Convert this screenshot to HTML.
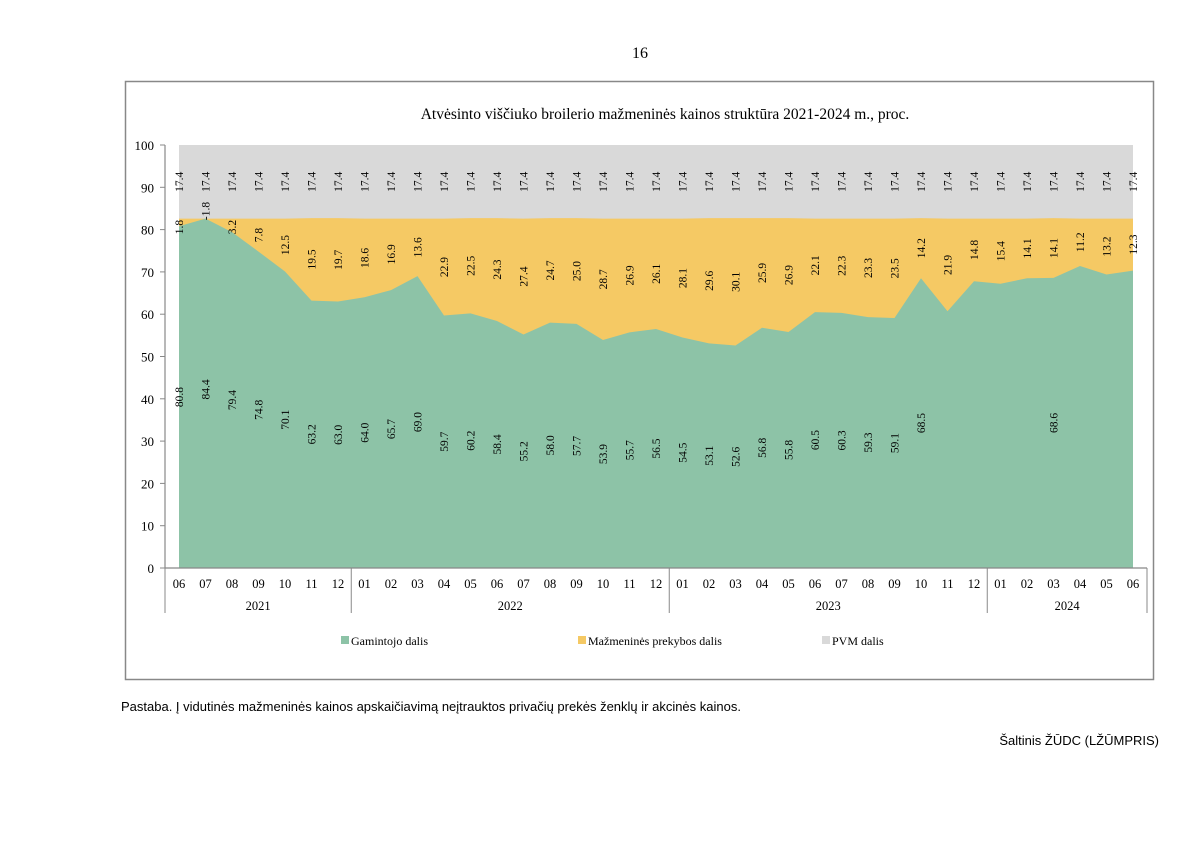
<!DOCTYPE html>
<html><head><meta charset="utf-8"><style>
body{margin:0;background:#fff;width:1200px;height:849px;overflow:hidden;font-family:"Liberation Serif",serif;}
</style></head><body>
<svg width="1200" height="849" xmlns="http://www.w3.org/2000/svg">
<text x="640" y="58" font-size="16" text-anchor="middle" font-family="Liberation Serif">16</text>
<rect x="125.5" y="81.5" width="1028" height="598" fill="none" stroke="#888" stroke-width="1.5"/>
<text x="665" y="119" font-size="15.5" text-anchor="middle" font-family="Liberation Serif">Atvėsinto viščiuko broilerio mažmeninės kainos struktūra 2021-2024 m., proc.</text>
<g id="plot"></g>
<g>
<rect x="341" y="636" width="8" height="8" fill="#8dc3a7"/>
<text x="351" y="645" font-size="12">Gamintojo dalis</text>
<rect x="578" y="636" width="8" height="8" fill="#f5c964"/>
<text x="588" y="645" font-size="12">Mažmeninės prekybos dalis</text>
<rect x="822" y="636" width="8" height="8" fill="#d9d9d9"/>
<text x="832" y="645" font-size="12">PVM dalis</text>
</g>
<text x="121" y="711" font-size="13" font-family="Liberation Sans">Pastaba. Į vidutinės mažmeninės kainos apskaičiavimą neįtrauktos privačių prekės ženklų ir akcinės kainos.</text>
<text x="1159" y="745" font-size="13" text-anchor="end" font-family="Liberation Sans">Šaltinis ŽŪDC (LŽŪMPRIS)</text>
</svg>
<script>
const months=["06","07","08","09","10","11","12","01","02","03","04","05","06","07","08","09","10","11","12","01","02","03","04","05","06","07","08","09","10","11","12","01","02","03","04","05","06"];
const years=["2021","2022","2023","2024"];
const yearCounts=[7,12,12,6];
const producer=[80.8,84.4,79.4,74.8,70.1,63.2,63.0,64.0,65.7,69.0,59.7,60.2,58.4,55.2,58.0,57.7,53.9,55.7,56.5,54.5,53.1,52.6,56.8,55.8,60.5,60.3,59.3,59.1,68.5,60.7,67.8,67.2,68.5,68.6,71.4,69.4,70.3];
const retail=[1.8,-1.8,3.2,7.8,12.5,19.5,19.7,18.6,16.9,13.6,22.9,22.5,24.3,27.4,24.7,25.0,28.7,26.9,26.1,28.1,29.6,30.1,25.9,26.9,22.1,22.3,23.3,23.5,14.2,21.9,14.8,15.4,14.1,14.1,11.2,13.2,12.3];
const vat=[17.4,17.4,17.4,17.4,17.4,17.4,17.4,17.4,17.4,17.4,17.4,17.4,17.4,17.4,17.4,17.4,17.4,17.4,17.4,17.4,17.4,17.4,17.4,17.4,17.4,17.4,17.4,17.4,17.4,17.4,17.4,17.4,17.4,17.4,17.4,17.4,17.4];
const yTicks=[0,10,20,30,40,50,60,70,80,90,100];
const producerLabelShown=[1,1,1,1,1,1,1,1,1,1,1,1,1,1,1,1,1,1,1,1,1,1,1,1,1,1,1,1,1,0,0,0,0,1,0,0,0];

const NS="http://www.w3.org/2000/svg";
const g=document.getElementById('plot');
const x0=179,step=26.5,yb=568,yt=145;
const X=i=>x0+i*step;
const Y=v=>yb-(v/100)*(yb-yt);
function el(t,a,p){const e=document.createElementNS(NS,t);for(const k in a)e.setAttribute(k,a[k]);(p||g).appendChild(e);return e;}
const n=months.length;
function area(top,bot,fill,name){
  let d="M"+X(0)+","+Y(top(0));
  for(let i=1;i<n;i++)d+="L"+X(i)+","+Y(top(i));
  for(let i=n-1;i>=0;i--)d+="L"+X(i)+","+Y(bot(i));
  const p=el('path',{d:d+"Z",fill:fill});
  
  
}
area(i=>100,i=>0,"#d9d9d9","vat-area");
area(i=>producer[i]+retail[i],i=>0,"#f5c964","retail-area");
area(i=>Math.min(producer[i],100-vat[i]),i=>0,"#8dc3a7","producer-area");
// axes
const ax=el('line',{x1:165,y1:yt,x2:165,y2:yb,stroke:"#888","stroke-width":1.2});


yTicks.forEach(v=>{
  el('line',{x1:160,y1:Y(v),x2:165,y2:Y(v),stroke:"#888"});
  const t=el('text',{x:154,y:Y(v)+5,"font-size":13,"text-anchor":"end"});
  t.textContent=v;
  
  
});
const xa=el('line',{x1:165,y1:yb,x2:1147,y2:yb,stroke:"#888","stroke-width":1.2});


months.forEach((m,i)=>{
  const t=el('text',{x:X(i),y:588,"font-size":12.5,"text-anchor":"middle"});
  t.textContent=m;
  
  
});
let start=0;
el('line',{x1:165,y1:yb,x2:165,y2:613,stroke:"#888"});
years.forEach((y,k)=>{
  const end=start+yearCounts[k];
  const xr=k===years.length-1?1147:X(end-0.5);
  const xl=k===0?165:X(start-0.5);
  el('line',{x1:xr,y1:yb,x2:xr,y2:613,stroke:"#888"});
  const t=el('text',{x:(xl+xr)/2,y:610,"font-size":12.5,"text-anchor":"middle"});
  t.textContent=y;
  
  
  start=end;
});
function vlabel(x,v,val,name){
  const t=el('text',{transform:`translate(${x+4},${Y(v)}) rotate(-90)`,"font-size":11.5,"text-anchor":"middle"});
  t.textContent=val.toFixed(1);
  
  
}
for(let i=0;i<n;i++){
  const top=100-vat[i];
  vlabel(X(i),(100+top)/2,vat[i],'vat-value-label');
  let rm=producer[i]+retail[i]/2;
  if(retail[i]<0)rm=top+1.8; if(retail[i]<4&&retail[i]>0)rm=top-2;
  vlabel(X(i),rm,retail[i],'retail-value-label');
  if(producerLabelShown[i])vlabel(X(i),producer[i]/2,producer[i],'producer-value-label');
}
</script>
</body></html>
